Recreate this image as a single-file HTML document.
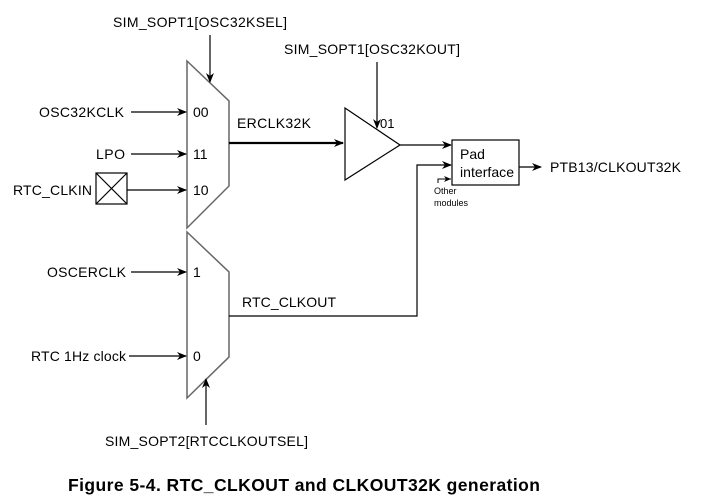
<!DOCTYPE html>
<html><head><meta charset="utf-8"><style>html,body{margin:0;padding:0;background:#fff}svg{display:block}</style></head><body>
<svg width="709" height="502" viewBox="0 0 709 502" xmlns="http://www.w3.org/2000/svg" font-family="Liberation Sans, Arial, sans-serif" font-size="14" fill="#000">
<defs><marker id="a" markerWidth="10" markerHeight="8" refX="9" refY="4" orient="auto" markerUnits="userSpaceOnUse"><path d="M0,0 L10,4 L0,8 L3,4 Z" fill="#000"/></marker>
<marker id="s" markerWidth="7" markerHeight="6" refX="7" refY="3" orient="auto" markerUnits="userSpaceOnUse"><path d="M0,0 L7,3 L0,6 L2,3 Z" fill="#000"/></marker></defs>
<g stroke="#000" fill="none" stroke-width="1.2">
<path d="M187,61 L229,101 L229,186 L187,228 Z" stroke="#666" stroke-width="1.5"/>
<path d="M187,232 L229,272 L229,357 L187,398 Z" stroke="#666" stroke-width="1.5"/>
<line x1="210" y1="35" x2="210" y2="82" marker-end="url(#a)"/>
<line x1="131" y1="112" x2="186" y2="112" marker-end="url(#a)"/>
<line x1="131" y1="154" x2="186" y2="154" marker-end="url(#a)"/>
<line x1="127" y1="190" x2="186" y2="190" marker-end="url(#a)"/>
<rect x="96" y="173" width="31" height="31"/>
<line x1="96" y1="173" x2="127" y2="204"/><line x1="127" y1="173" x2="96" y2="204"/>
<line x1="229" y1="143" x2="343" y2="143" stroke-width="2.2" marker-end="url(#a)"/>
<path d="M345,108 L400,145 L345,180 Z"/>
<line x1="377" y1="62" x2="377" y2="128" marker-end="url(#a)"/>
<line x1="400" y1="145" x2="451" y2="145" marker-end="url(#a)"/>
<rect x="452" y="140" width="67" height="45"/>
<path d="M229,316 L417,316 L417,165 L451,165" marker-end="url(#a)"/>
<path d="M438,183 L438,179 L451,179" stroke-width="1" marker-end="url(#s)"/>
<line x1="519" y1="167" x2="541" y2="167" marker-end="url(#a)"/>
<line x1="131" y1="272" x2="186" y2="272" marker-end="url(#a)"/>
<line x1="129" y1="356" x2="186" y2="356" marker-end="url(#a)"/>
<line x1="206" y1="425" x2="206" y2="379" marker-end="url(#a)"/>
</g>
<text x="113" y="27" textLength="174">SIM_SOPT1[OSC32KSEL]</text>
<text x="284" y="54" textLength="176">SIM_SOPT1[OSC32KOUT]</text>
<text x="39" y="117" textLength="85">OSC32KCLK</text>
<text x="96" y="159" textLength="29">LPO</text>
<text x="13" y="195" textLength="79">RTC_CLKIN</text>
<text x="193" y="117">00</text>
<text x="193" y="159">11</text>
<text x="193" y="195">10</text>
<text x="237" y="128" textLength="74">ERCLK32K</text>
<text x="380" y="128" font-size="13">01</text>
<text x="460" y="159">Pad</text>
<text x="460" y="177" textLength="54">interface</text>
<text x="434" y="194" font-size="9">Other</text>
<text x="434" y="206" font-size="9">modules</text>
<text x="550" y="172" textLength="131">PTB13/CLKOUT32K</text>
<text x="47" y="277" textLength="79">OSCERCLK</text>
<text x="193" y="277">1</text>
<text x="242" y="307" textLength="94">RTC_CLKOUT</text>
<text x="31" y="361" textLength="95">RTC 1Hz clock</text>
<text x="193" y="361">0</text>
<text x="105" y="446" textLength="203">SIM_SOPT2[RTCCLKOUTSEL]</text>
<text x="68" y="491" font-size="17.5" font-weight="bold" textLength="472">Figure 5-4. RTC_CLKOUT and CLKOUT32K generation</text>
</svg>
</body></html>
